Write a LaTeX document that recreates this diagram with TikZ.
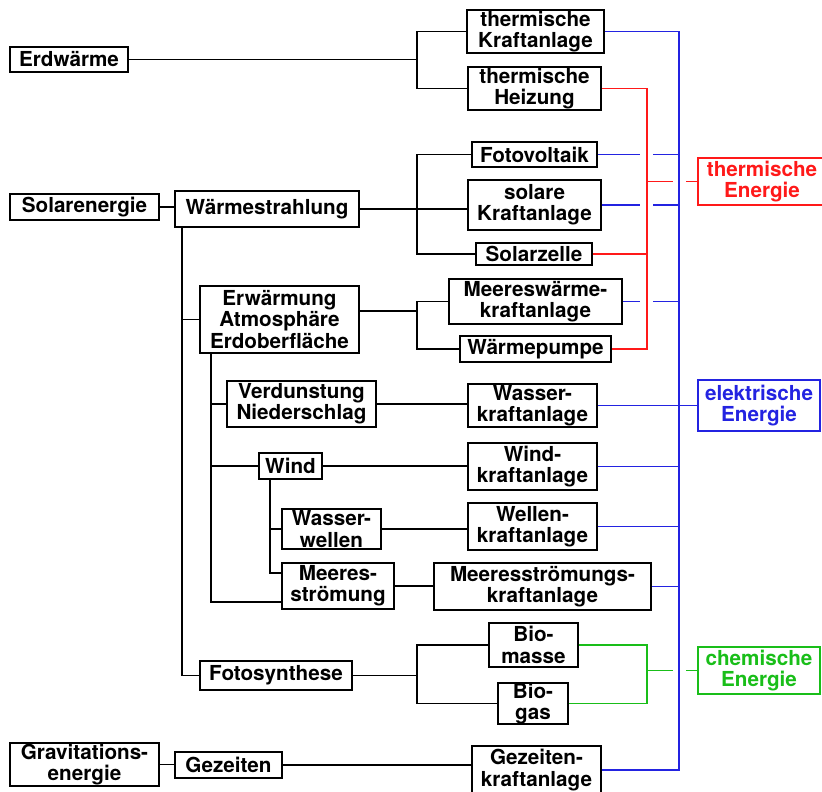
\documentclass[tikz,border=0pt]{standalone}
\usepackage{fontspec}
\setmainfont{TeX Gyre Heros}
\usepackage{xcolor}
\usepackage{tikz}
\definecolor{ered}{RGB}{255,25,25}
\definecolor{eblue}{RGB}{35,35,225}
\definecolor{egreen}{RGB}{25,190,25}

\begin{document}
\begin{tikzpicture}[x=0.75pt, y=-0.75pt, line width=1pt, box/.style={draw, line width=1.2pt, inner sep=0pt, align=center, font=\bfseries\fontsize{15.5}{16}\selectfont}, wh/.style 2 args={minimum width=#1*0.75pt, minimum height=#2*0.75pt}, ebox/.style={box, draw=#1, text=#1}]
\useasboundingbox (0,0) rectangle (822,792);

\node[box, wh={118}{25}] (erd) at (69,59.5) {Erdwärme};
\node[box, wh={149}{26}] (solar) at (84.5,207) {Solarenergie};
\node[box, wh={149}{43}] (grav) at (84.5,764.5) {Gravitations-\\energie};
\node[box, wh={184}{36}] (strahl) at (267,209) {Wärmestrahlung};
\node[box, wh={159}{67}] (erwaerm) at (279.5,319.5) {Erwärmung\\Atmosphäre\\Erdoberfläche};
\node[box, wh={149}{46}] (verd) at (301.5,404) {Verdunstung\\Niederschlag};
\node[box, wh={63}{26}] (wind) at (290.5,466) {Wind};
\node[box, wh={99}{40}] (wellen) at (331.5,529) {Wasser-\\wellen};
\node[box, wh={112}{46}] (stroem) at (338,586) {Meeres-\\strömung};
\node[box, wh={152}{29}] (foto) at (276,675.5) {Fotosynthese};
\node[box, wh={107}{26}] (gez) at (228.5,765) {Gezeiten};

\node[box, wh={137}{43}] (tka) at (535.5,31.5) {thermische\\Kraftanlage};
\node[box, wh={133}{43}] (thz) at (534.5,88.5) {thermische\\Heizung};
\node[box, wh={125}{25}] (pv) at (534.5,154.5) {Fotovoltaik};
\node[box, wh={133}{50}] (ska) at (534.5,205) {solare\\Kraftanlage};
\node[box, wh={116}{22}] (sz) at (534,254) {Solarzelle};
\node[box, wh={173}{45}] (mwk) at (535.5,301.5) {Meereswärme-\\kraftanlage};
\node[box, wh={151}{26}] (wp) at (535.5,349) {Wärmepumpe};
\node[box, wh={129}{43}] (wka) at (532.5,405.5) {Wasser-\\kraftanlage};
\node[box, wh={129}{47}] (wika) at (532.5,466.5) {Wind-\\kraftanlage};
\node[box, wh={129}{47}] (weka) at (532.5,526.5) {Wellen-\\kraftanlage};
\node[box, wh={217}{47}] (msk) at (542.5,586.5) {Meeresströmungs-\\kraftanlage};
\node[box, wh={89}{44}] (biom) at (533.5,645) {Bio-\\masse};
\node[box, wh={70}{41}] (biog) at (533,703.5) {Bio-\\gas};
\node[box, wh={129}{48}] (gzk) at (536.5,770) {Gezeiten-\\kraftanlage};

\node[ebox=ered, wh={128}{47}] (therm) at (762,181.5) {thermische\\Energie};
\node[ebox=eblue, wh={122}{51}] (elek) at (759,405.5) {elektrische\\Energie};
\node[ebox=egreen, wh={122}{47}] (chem) at (759,670.5) {chemische\\Energie};

\coordinate (fork) at (417,0);
\coordinate (spa) at (182,0);
\coordinate (spb) at (211,0);
\coordinate (spc) at (270,0);
\coordinate (cbus) at (647,0);
\coordinate (bbus) at (679,0);
\coordinate (rgl) at (640,0);
\coordinate (rgr) at (653,0);
\coordinate (bgl) at (673,0);
\coordinate (bgr) at (686,0);

\draw (erd.east) -- (erd.east -| fork);
\draw (tka.west) -| (fork |- erd.east) |- (thz.west);
\draw (solar.east) -- (solar.east -| strahl.west);
\draw (strahl.east) -- (strahl.east -| ska.west);
\draw (pv.west) -| (fork |- strahl.east) |- (sz.west);
\draw ([yshift=6.4pt]erwaerm.east) coordinate (ee) -- (ee -| fork);
\draw (mwk.west) -| (ee -| fork) |- (wp.west);
\draw (foto.east) -- (foto.east -| fork);
\draw (biom.west) -| (foto.east -| fork) |- (biog.west);
\draw (strahl.south -| spa) |- (foto.west);
\draw (erwaerm.west -| spa) -- (erwaerm.west);
\draw (erwaerm.south -| spb) |- ([yshift=-12pt]stroem.west);
\draw (verd.west -| spb) -- (verd.west);
\draw (wind.west -| spb) -- (wind.west);
\draw (wind.south -| spc) |- ([yshift=9.8pt]stroem.west);
\draw (wellen.west -| spc) -- (wellen.west);
\draw (verd.east) -- (verd.east -| wka.west);
\draw (wind.east) -- (wind.east -| wika.west);
\draw (wellen.east) -- (wellen.east -| weka.west);
\draw (stroem.east) -- (stroem.east -| msk.west);
\draw (grav.east) -- (grav.east -| gez.west);
\draw (gez.east) -- (gez.east -| gzk.west);

\draw[eblue] (tka.east) -| (bbus |- gzk.east) -- (gzk.east);
\draw[eblue] (wka.east) -- (wka.east -| elek.west);
\foreach \n in {wika, weka, msk}
  \draw[eblue] (\n.east) -- (\n.east -| bbus);
\foreach \n in {pv, ska, mwk}
  \draw[eblue] (\n.east) -- (\n.east -| rgl) (\n.east -| rgr) -- (\n.east -| bbus);

\draw[ered] (thz.east) -| (cbus |- wp.east) -- (wp.east);
\draw[ered] (sz.east) -- (sz.east -| cbus);
\draw[ered] (cbus |- therm.west) -- (bgl |- therm.west) (bgr |- therm.west) -- (therm.west);

\draw[egreen] (biom.east) -| (cbus |- biog.east) -- (biog.east);
\draw[egreen] (cbus |- chem.west) -- (bgl |- chem.west) (bgr |- chem.west) -- (chem.west);
\end{tikzpicture}
\end{document}
